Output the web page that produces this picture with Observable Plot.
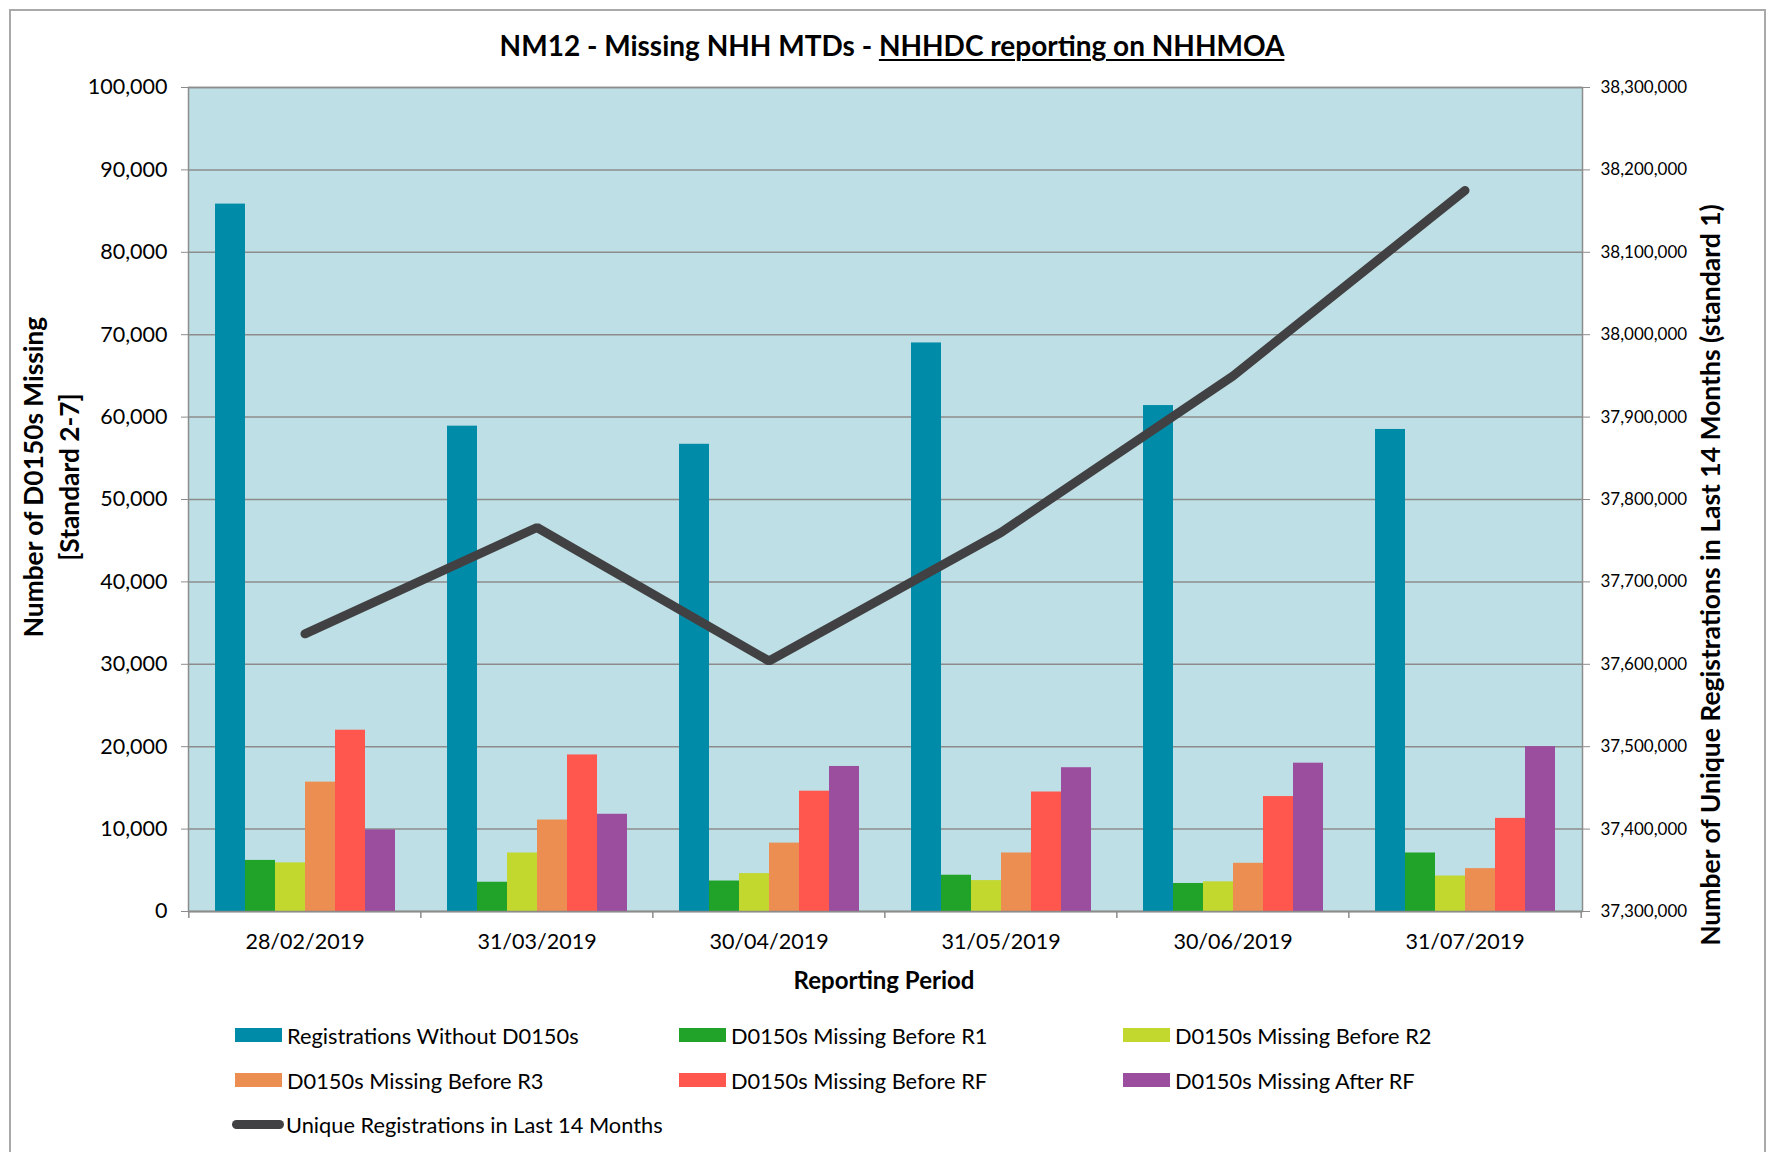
<!DOCTYPE html>
<html>
<head>
<meta charset="utf-8">
<script src="https://cdn.jsdelivr.net/npm/d3@7"></script>
<script src="https://cdn.jsdelivr.net/npm/@observablehq/plot@0.6"></script>
<style>
html, body { margin: 0; padding: 0; background: #fff; }
#chart { position: relative; width: 1778px; height: 1152px; overflow: hidden; font-family: Lato, "Open Sans", sans-serif; color: #000; background: #fff; }
#border { position: absolute; left: 9px; top: 9px; width: 1757px; height: 1170px; border: 2px solid #a9a9a9; box-sizing: border-box; }
.layer { position: absolute; left: 0; top: 0; }
.layer svg { display: block; background: transparent !important; max-width: none !important; }
.layer svg text { fill: #000; }
.layer svg [aria-label$="tick"] path, .layer svg .tick line, .layer svg .domain { stroke: #8c8c8c; }
#layerC [aria-label^="y-axis"] text { font-size: 17px; }
#title { position: absolute; left: 0; width: 1784px; top: 26px; text-align: center; font-weight: 700; font-size: 28px; line-height: 38px; white-space: nowrap; }
#title u { text-decoration-thickness: 2px; text-underline-offset: 3px; }
.ytitle { position: absolute; font-weight: 700; text-align: center; white-space: nowrap; transform: rotate(-90deg); }
#yleft { left: -199px; top: 441px; width: 500px; font-size: 26.3px; line-height: 36px; }
#yright { left: 1310px; top: 558px; width: 800px; font-size: 26.5px; line-height: 34px; }
#xtitle { position: absolute; left: 684px; width: 400px; top: 965px; text-align: center; font-weight: 700; font-size: 24px; line-height: 30px; }
.leg { position: absolute; height: 30px; display: flex; align-items: center; font-size: 21.8px; white-space: nowrap; }
.sw { display: inline-block; width: 47px; height: 14px; margin-right: 5px; }
.swl { display: inline-block; width: 52px; height: 9px; border-radius: 5px; margin-right: 2px; }
</style>
</head>
<body>
<div id="chart">
  <div id="border"></div>
  <div id="title">NM12 - Missing NHH MTDs - <u>NHHDC reporting on NHHMOA</u></div>
  <div class="layer" id="layerA"></div>
  <div class="layer" id="layerB"></div>
  <div class="layer" id="layerC"></div>
  <div class="ytitle" id="yleft">Number of D0150s Missing<br>[Standard 2-7]</div>
  <div class="ytitle" id="yright">Number of Unique Registrations in Last 14 Months (standard 1)</div>
  <div id="xtitle">Reporting Period</div>
  <div id="legend"></div>
</div>
<script>
// ---- data ----
const periods = ["28/02/2019", "31/03/2019", "30/04/2019", "31/05/2019", "30/06/2019", "31/07/2019"];
const seriesNames = [
  "Registrations Without D0150s",
  "D0150s Missing Before R1",
  "D0150s Missing Before R2",
  "D0150s Missing Before R3",
  "D0150s Missing Before RF",
  "D0150s Missing After RF"
];
const registrationsWithoutD0150s = [85850, 58900, 56700, 69000, 61400, 58500];
const missingBeforeR1 = [6200, 3550, 3700, 4400, 3400, 7100];
const missingBeforeR2 = [5900, 7100, 4600, 3750, 3600, 4300];
const missingBeforeR3 = [15700, 11100, 8300, 7100, 5850, 5200];
const missingBeforeRF = [22000, 19000, 14600, 14500, 13950, 11300];
const missingAfterRF = [9900, 11800, 17600, 17450, 18000, 20000];
const lineName = "Unique Registrations in Last 14 Months";
const uniqueRegistrations14m = [37637000, 37766000, 37604000, 37760000, 37950000, 38175000];
const leftTicks = [0, 10000, 20000, 30000, 40000, 50000, 60000, 70000, 80000, 90000, 100000];
const rightTicks = [37300000, 37400000, 37500000, 37600000, 37700000, 37800000, 37900000, 38000000, 38100000, 38200000, 38300000];

// ---- styles ----
const seriesColors = ["#008ca8", "#21a329", "#c2d82e", "#ec8e52", "#ff574d", "#9b4d9e"];
const lineColor = "#414143";
const plotBg = "#bedfe5";
const gridColor = "#8c8c8c";

// ---- layout ----
const W = 1778, H = 1000;
const ML = 188, MR = 196, MT = 87, MB = 89;
const padInner = 0.21, padOuter = 0.105;
const step = (W - ML - MR) / periods.length;

const seriesValues = [registrationsWithoutD0150s, missingBeforeR1, missingBeforeR2, missingBeforeR3, missingBeforeRF, missingAfterRF];
const barRows = periods.flatMap((p, i) => seriesNames.map((s, j) => ({period: p, series: s, value: seriesValues[j][i]})));
const lineRows = periods.map((p, i) => ({period: p, value: uniqueRegistrations14m[i]}));

const common = {
  width: W, height: H, marginLeft: ML, marginRight: MR, marginTop: MT, marginBottom: MB,
  style: {background: "transparent", fontFamily: "Lato, 'Open Sans', sans-serif", fontSize: "21.5px", color: "#000", overflow: "visible"}
};

// Layer A: plot background, gridlines, left axis
const plotA = Plot.plot({
  ...common,
  y: {domain: [0, 100000], ticks: leftTicks, tickFormat: d3.format(","), tickSize: 7, tickPadding: 14, label: null},
  marks: [
    Plot.frame({fill: plotBg, stroke: gridColor, strokeWidth: 1.5}),
    Plot.ruleY(leftTicks, {stroke: gridColor, strokeWidth: 1.5})
  ]
});
document.getElementById("layerA").append(plotA);

// Layer B: grouped bars
const plotB = Plot.plot({
  ...common,
  fx: {domain: periods, paddingInner: padInner, paddingOuter: padOuter, axis: null, label: null},
  x: {domain: seriesNames, padding: 0, axis: null},
  y: {domain: [0, 100000], axis: null},
  color: {domain: seriesNames, range: seriesColors},
  marks: [
    Plot.barY(barRows, {fx: "period", x: "series", y: "value", fill: "series"})
  ]
});
document.getElementById("layerB").append(plotB);

// Layer C: line on secondary axis, category axis
const plotC = Plot.plot({
  ...common,
  x: {type: "band", domain: periods, paddingInner: padInner, paddingOuter: padOuter, tickSize: 0, tickPadding: 22, label: null},
  y: {domain: [rightTicks[0], rightTicks[rightTicks.length - 1]], axis: "right", ticks: rightTicks, tickFormat: d3.format(","), tickSize: 7, tickPadding: 11, label: null},
  marks: [
    Plot.ruleY([rightTicks[0]], {stroke: gridColor, strokeWidth: 1.5}),
    Plot.ruleX(periods, {x: d => d, y1: rightTicks[0], y2: rightTicks[0], dx: -step / 2, insetBottom: -7, stroke: gridColor, strokeWidth: 1.5}),
    Plot.ruleX(periods.slice(-1), {x: d => d, y1: rightTicks[0], y2: rightTicks[0], dx: step / 2, insetBottom: -7, stroke: gridColor, strokeWidth: 1.5}),
    Plot.line(lineRows, {x: "period", y: "value", stroke: lineColor, strokeWidth: 9, strokeLinecap: "round", strokeLinejoin: "miter"})
  ]
});
document.getElementById("layerC").append(plotC);

// Legend
const legend = document.getElementById("legend");
const legCols = [235, 679, 1123];
const legRows = [1035, 1080, 1124];
seriesNames.forEach((s, j) => {
  const item = document.createElement("div");
  item.className = "leg";
  item.style.left = legCols[j % 3] + "px";
  item.style.top = (legRows[Math.floor(j / 3)] - 15) + "px";
  const sw = document.createElement("span");
  sw.className = "sw";
  sw.style.background = seriesColors[j];
  item.append(sw, document.createTextNode(s));
  legend.append(item);
});
{
  const item = document.createElement("div");
  item.className = "leg";
  item.style.left = (legCols[0] - 3) + "px";
  item.style.top = (legRows[2] - 15) + "px";
  const sw = document.createElement("span");
  sw.className = "swl";
  sw.style.background = lineColor;
  item.append(sw, document.createTextNode(lineName));
  legend.append(item);
}
</script>
</body>
</html>
